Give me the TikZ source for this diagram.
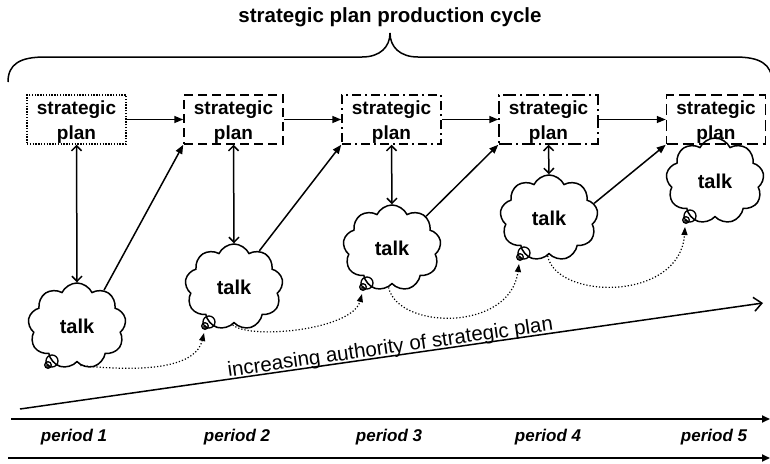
\documentclass[tikz,border=0pt]{standalone}
\usepackage{fontspec}
\setmainfont{Liberation Sans}
\usetikzlibrary{arrows.meta,shapes.symbols,calc}

\begin{document}
\begin{tikzpicture}[x=1pt,y=-1pt,
  line width=1.5pt,
  planbox/.style={draw, minimum width=99pt, minimum height=49pt, inner sep=0pt},
  plantext/.style={font=\fontsize{19}{25}\selectfont\bfseries, align=center, inner sep=0pt},
  talkcloud/.style={draw, cloud, cloud puffs=9, cloud puff arc=130, aspect=1.12,
    minimum width=98pt, minimum height=86pt, inner sep=0pt,
    font=\fontsize{20}{24}\selectfont\bfseries},
  fwd/.style={-{Triangle[length=9pt,width=7pt]}},
  both/.style={{Straight Barb[length=5pt,width=10pt]}-{Straight Barb[length=5pt,width=10pt]}},
  drift/.style={dotted, line width=1.2pt, -{Triangle[length=8pt,width=6pt]}},
  timeline/.style={line width=1.8pt, -{Triangle[length=8pt,width=7pt]}},
  periodlabel/.style={font=\fontsize{17}{20}\selectfont\bfseries\itshape, inner sep=0pt},
  bubble/.style={line width=1.3pt},
]
\useasboundingbox (0,0) rectangle (770,463);

% title and brace
\node[font=\fontsize{20.5}{24}\selectfont\bfseries] (title) at (390,17) {strategic plan production cycle};
\draw (8,82) .. controls (8,64) and (20,57) .. (45,57) -- (362,57)
      .. controls (380,57) and (390,47) .. (390,33)
      .. controls (390,47) and (400,57) .. (418,57) -- (735,57)
      .. controls (760,57) and (772,64) .. (772,82);

% strategic plan boxes
\node[planbox, dash pattern=on 1.4pt off 1.4pt] (b1) at (76.5,119.5) {};
\node[planbox, dash pattern=on 9pt off 5pt] (b2) at (233.5,119.5) {};
\node[planbox, dash pattern=on 9pt off 4pt on 2pt off 4pt] (b3) at (391.5,119.5) {};
\node[planbox, dash pattern=on 13pt off 4pt on 2pt off 4pt] (b4) at (548.5,119.5) {};
\node[planbox, dash pattern=on 11pt off 5pt] (b5) at (716,119.5) {};
\foreach \b in {b1,b2,b3,b4,b5}
  \node[plantext] (\b t) at ([yshift=-3pt]\b.center) {strategic\\plan};

% talk clouds
\node[talkcloud] (c1) at (77,326) {talk};
\node[talkcloud] (c2) at (234,287) {talk};
\node[talkcloud] (c3) at (392,248) {talk};
\node[talkcloud] (c4) at (549,218) {talk};
\node[talkcloud] (c5) at (715,181) {talk};

% thought bubbles of each cloud and the point the dotted arrows reach
\foreach \c in {c1,c2,c3,c4,c5}{
  \draw[bubble] ($(\c.center)+(-25,35)$) circle[radius=6pt];
  \draw[bubble] ($(\c.center)+(-29,39)$) circle[radius=3.3pt];
  \draw[line width=0.9pt] ($(\c.center)+(-29,40)$) circle[radius=1.4pt];
  \coordinate (\c p) at ($(\c.center)+(-30,46)$);
}

% plan to plan
\draw[fwd] (b1.east) -- (b2.west);
\draw[fwd] (b2.east) -- (b3.west);
\draw[fwd] (b3.east) -- (b4.west);
\draw[fwd] (b4.east) -- (b5.west);

% plan <-> talk
\draw[both] (b1.south) -- (c1.north);
\draw[both] (b2.south) -- (c2.north);
\draw[both] (b3.south) -- (c3.north);
\draw[both] (b4.south) -- (c4.north);

% talk to next plan
\draw[fwd] (c1.53) -- (b2.south west);
\draw[fwd] (c2.55) -- (b3.south west);
\draw[fwd] (c3.43) -- (b4.south west);
\draw[fwd] (c4.18) -- (b5.south west);

% talk to next talk
\draw[drift] (c1.-85) .. controls (150,373) and (196,366) .. (c2p);
\draw[drift] (c2.-92) .. controls (250,340) and (352,330) .. (c3p);
\draw[drift] (c3.-95) .. controls (398,330) and (510,332) .. (c4p);
\draw[drift] (c4.-92) .. controls (556,300) and (680,302) .. (c5p);

% authority arrow
\coordinate (a0) at (20,409);
\coordinate (a1) at (763,303);
\draw[-{Straight Barb[length=8pt,width=14pt]}] (a0) -- (a1)
  node[pos=0.5, sloped, anchor=base, yshift=2.5pt, inner sep=0pt,
       font=\fontsize{20.5}{24}\selectfont] (auth) {increasing authority of strategic plan};

% time axis
\coordinate (t0) at (11,419);
\coordinate (t1) at (770,419);
\coordinate (u0) at (8,458);
\coordinate (u1) at (770,458);
\draw[timeline] (t0) -- (t1);
\draw[timeline] (u0) -- (u1);
\node[periodlabel] (p1) at (74,437) {period 1};
\node[periodlabel] (p2) at (237,437) {period 2};
\node[periodlabel] (p3) at (389,437) {period 3};
\node[periodlabel] (p4) at (548,437) {period 4};
\node[periodlabel] (p5) at (714,437) {period 5};
\end{tikzpicture}
\end{document}
